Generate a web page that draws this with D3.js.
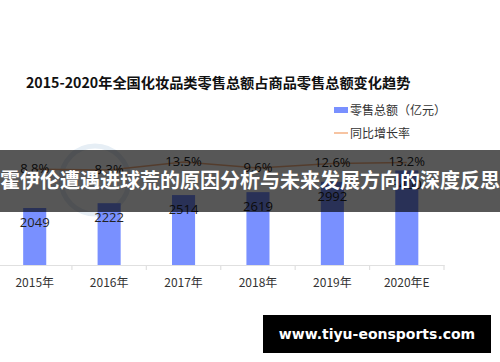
<!DOCTYPE html>
<html><head><meta charset="utf-8">
<script src="https://cdn.jsdelivr.net/npm/d3@7"></script>
<style>body{margin:0;background:#fff}svg{display:block}</style>
</head><body>
<svg id="c" width="500" height="362"></svg>
<script>
const categories = ["2015年","2016年","2017年","2018年","2019年","2020年E"];
const retailValues = [2049, 2222, 2514, 2619, 2992, 3400];
const growthRates = [8.8, 8.3, 13.5, 9.6, 12.6, 13.2];
const growthLabels = ["8.8%","8.3%","13.5%","9.6%","12.6%","13.2%"];
const titleText = "2015-2020年全国化妆品类零售总额占商品零售总额变化趋势";
const legendLabels = ["零售总额（亿元）","同比增长率"];
const bannerText = "霍伊伦遭遇进球荒的原因分析与未来发展方向的深度反思";
const watermarkText = "www.tiyu-eonsports.com";

const svg = d3.select("#c");
const cjk = "'Noto Sans CJK SC','Noto Sans',sans-serif";
const barColor = "#7990ff", lineColor = "#f4b183";

const x = d3.scaleBand().domain(categories).range([-2.5, 444]).paddingInner(0.69).paddingOuter(0.345);
const y = d3.scaleLinear().domain([0, 2049]).range([265, 208]);
const y2 = d3.scaleLinear().domain([8.3, 13.5]).range([170, 162]);

// title
svg.append("text").attr("x", 26).attr("y", 88).text(titleText)
  .attr("font-family", cjk).attr("font-weight", "bold").attr("font-size", 14.2).attr("fill", "#111");

// legend
svg.append("rect").attr("x", 334).attr("y", 107).attr("width", 14).attr("height", 6).attr("fill", barColor);
svg.append("text").attr("x", 350).attr("y", 114.5).text(legendLabels[0])
  .attr("font-family", cjk).attr("font-size", 12).attr("fill", "#333");
svg.append("line").attr("x1", 334).attr("x2", 348).attr("y1", 133).attr("y2", 133)
  .attr("stroke", lineColor).attr("stroke-width", 1.5);
svg.append("text").attr("x", 350).attr("y", 137.5).text(legendLabels[1])
  .attr("font-family", cjk).attr("font-size", 12).attr("fill", "#333");

// faint watermark logo
svg.append("circle").attr("cx", 95).attr("cy", 180).attr("r", 34)
  .attr("fill", "none").attr("stroke", "#e6eef5").attr("stroke-width", 5);

// bars
svg.selectAll("rect.bar").data(retailValues).join("rect").attr("class", "bar")
  .attr("x", (d, i) => x(categories[i])).attr("width", x.bandwidth())
  .attr("y", d => y(d)).attr("height", d => y(0) - y(d)).attr("fill", barColor);
svg.selectAll("text.val").data(retailValues).join("text").attr("class", "val")
  .attr("x", (d, i) => x(categories[i]) + x.bandwidth() / 2)
  .attr("y", d => y(d) + 19).attr("text-anchor", "middle").text(d => d)
  .attr("font-family", "'Open Sans',sans-serif").attr("font-size", 13).attr("fill", "#222");

// axis
const axis = d3.axisBottom(x).tickSize(0).tickPadding(13);
const ag = svg.append("g").attr("transform", "translate(0,265)").call(axis);
ag.select(".domain").attr("stroke", "#e0e0e0").attr("stroke-width", 1.2);
ag.selectAll("text").attr("font-family", cjk).attr("font-size", 12).attr("fill", "#333");
const step = x.step();
ag.selectAll("line.sep").data(d3.range(1, categories.length + 1)).join("line").attr("class", "sep")
  .attr("x1", i => -2.5 + i * step).attr("x2", i => -2.5 + i * step)
  .attr("y1", 0).attr("y2", 5).attr("stroke", "#e0e0e0").attr("stroke-width", 1.2);

// line
const cx = (d, i) => x(categories[i]) + x.bandwidth() / 2;
svg.append("path").datum(growthRates)
  .attr("d", d3.line().x(cx).y(d => y2(d)))
  .attr("fill", "none").attr("stroke", lineColor).attr("stroke-width", 1.5);
svg.selectAll("text.pct").data(growthRates).join("text").attr("class", "pct")
  .attr("x", cx).attr("y", d => y2(d) + 4).attr("text-anchor", "middle")
  .text((d, i) => growthLabels[i])
  .attr("font-family", "'Open Sans',sans-serif").attr("font-size", 13).attr("fill", "#222");

// banner overlay
svg.append("rect").attr("x", 0).attr("y", 150).attr("width", 500).attr("height", 62)
  .attr("fill", "rgba(0,0,0,0.66)");
svg.append("text").attr("x", 250).attr("y", 188).attr("text-anchor", "middle").text(bannerText)
  .attr("font-family", cjk).attr("font-weight", "bold").attr("font-size", 20).attr("fill", "#fff");

// watermark box
svg.append("rect").attr("x", 263).attr("y", 315).attr("width", 228).attr("height", 38).attr("fill", "#000");
svg.append("text").attr("x", 377).attr("y", 339).attr("text-anchor", "middle").text(watermarkText)
  .attr("font-family", "'DejaVu Sans',sans-serif").attr("font-weight", "bold").attr("font-size", 14).attr("fill", "#fff");
</script>
</body></html>
